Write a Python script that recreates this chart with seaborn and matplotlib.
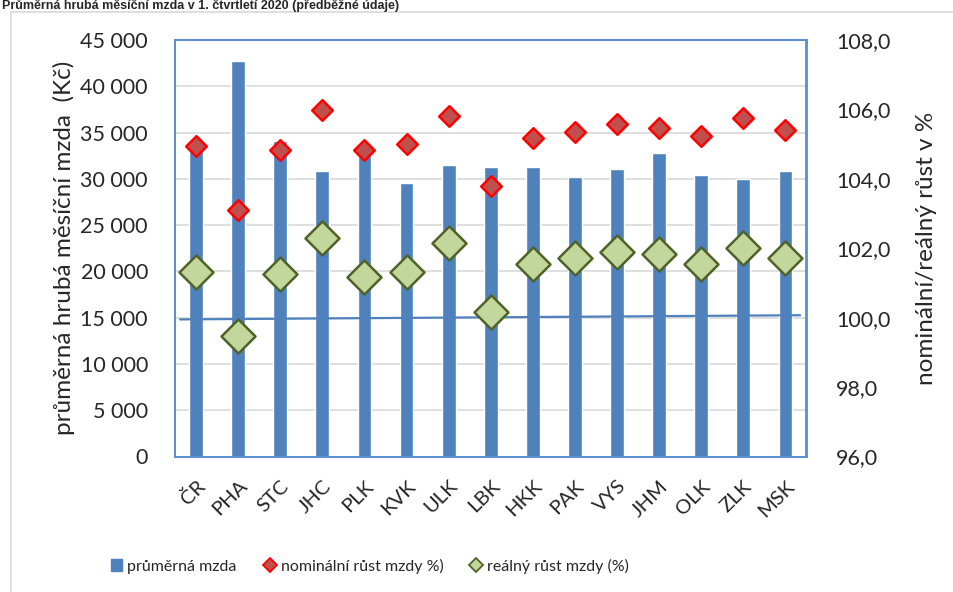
import matplotlib
matplotlib.use("Agg")
import matplotlib.pyplot as plt
import matplotlib.patches as mpatches
from matplotlib.lines import Line2D
import numpy as np
import pandas as pd
import seaborn as sns

# ---- data ----
regions = ["ČR", "PHA", "STC", "JHC", "PLK", "KVK", "ULK", "LBK",
           "HKK", "PAK", "VYS", "JHM", "OLK", "ZLK", "MSK"]
avg_wage = [34040, 42710, 34040, 30820, 33280, 29520, 31470, 31250,
            31250, 30170, 31040, 32740, 30390, 29950, 30820]
nominal_growth = [104.95, 103.10, 104.84, 105.99, 104.84, 105.01, 105.82, 103.80,
                  105.18, 105.35, 105.59, 105.47, 105.24, 105.76, 105.42]
real_growth = [101.33, 99.46, 101.25, 102.29, 101.16, 101.33, 102.14, 100.17,
               101.54, 101.72, 101.89, 101.83, 101.54, 102.01, 101.72]
baseline = [99.95, 100.07]

left_ticks = [0, 5000, 10000, 15000, 20000, 25000, 30000, 35000, 40000, 45000]
left_ticklabels = ["0", "5 000", "10 000", "15 000", "20 000", "25 000",
                   "30 000", "35 000", "40 000", "45 000"]
right_ticks = [96, 98, 100, 102, 104, 106, 108]
right_ticklabels = ["96,0", "98,0", "100,0", "102,0", "104,0", "106,0", "108,0"]

title = "Průměrná hrubá měsíční mzda v 1. čtvrtletí 2020 (předběžné údaje)"
ylabel_left = "průměrná hrubá měsíční mzda  (Kč)"
ylabel_right = "nominální/reálný růst v %"
legend_labels = ["průměrná mzda", "nominální růst mzdy %)", "reálný růst mzdy (%)"]

# ---- style ----
sns.set_theme(style="white")
plt.rcParams["font.family"] = ["Lato", "DejaVu Sans"]

BAR = "#4F81BD"
FRAME = "#5B8FD0"
GRID = "#D9D9D9"

fig = plt.figure(figsize=(9.54, 5.92), dpi=100)
ax = fig.add_axes([175 / 954, 1 - 456.5 / 592, 631.5 / 954, 416.5 / 592])

df = pd.DataFrame({"region": regions, "wage": avg_wage})
sns.barplot(data=df, x="region", y="wage", color=BAR, width=0.33,
            saturation=1, ax=ax, zorder=2)
ax.set_xlim(-0.5, len(regions) - 0.5)
ax.set_ylim(0, 45000)
ax.set_yticks(left_ticks)
ax.set_yticklabels(left_ticklabels, fontsize=15.5)
ax.yaxis.grid(True, color=GRID, linewidth=1.2, zorder=0)
ax.set_axisbelow(True)
ax.set_xlabel("")
ax.set_ylabel(ylabel_left, fontsize=17.5)
ax.yaxis.set_label_coords(-0.158, 0.5)
ax.tick_params(axis="y", length=0, pad=19.5)
ax.tick_params(axis="x", length=0, pad=15)
ax.set_xticks(range(len(regions)))
ax.set_xticklabels(regions, rotation=45, ha="right", va="top",
                   rotation_mode="anchor", fontsize=14.5)
for s in ax.spines.values():
    s.set_color(FRAME)
    s.set_linewidth(1.3)

ax2 = ax.twinx()
ax2.set_ylim(96, 108)
ax2.set_yticks(right_ticks)
ax2.set_yticklabels(right_ticklabels, fontsize=15.5)
ax2.tick_params(axis="y", length=0, pad=21.5)
ax2.grid(False)
for s in ax2.spines.values():
    s.set_color(FRAME)
    s.set_linewidth(1.3)
ax2.set_ylabel(ylabel_right, fontsize=17.5, labelpad=18)

xpos = np.arange(len(regions))
ax2.plot([-0.38, 14.35], baseline, color=BAR, linewidth=1.6, zorder=3)
sns.scatterplot(x=xpos, y=nominal_growth, marker="D", s=110,
                color="#C0504D", edgecolor="#FF0000", linewidth=1.8,
                ax=ax2, zorder=4, legend=False)
sns.scatterplot(x=xpos, y=real_growth, marker="D", s=300,
                color="#C3D69B", edgecolor="#4F6228", linewidth=1.8,
                ax=ax2, zorder=5, legend=False)
ax2.set_xlim(-0.5, len(regions) - 0.5)

# legend
handles = [
    mpatches.Patch(color=BAR),
    Line2D([], [], marker="D", linestyle="none", markersize=7.5,
           markerfacecolor="#C0504D", markeredgecolor="#FF0000", markeredgewidth=1.3),
    Line2D([], [], marker="D", linestyle="none", markersize=7.5,
           markerfacecolor="#C3D69B", markeredgecolor="#4F6228", markeredgewidth=1.3),
]
fig.legend(handles, legend_labels, loc="center", ncol=3,
           bbox_to_anchor=(370 / 954, 1 - 566 / 592), frameon=False,
           fontsize=11.5, handlelength=0.7, handletextpad=0.35,
           columnspacing=1.7)

# outer chart border
fig.patches.append(mpatches.Rectangle((11 / 954, -0.01), 1.0, 1 - 12 / 592 + 0.01,
                                      transform=fig.transFigure, fill=False,
                                      edgecolor="#D9D9D9", linewidth=1.2))

# title
fig.text(0.002, 1 - 9.5 / 592, title, fontsize=9, fontweight="bold",
         family=["Liberation Sans", "DejaVu Sans"], va="baseline", ha="left")

fig.savefig("out.png", dpi=100)
